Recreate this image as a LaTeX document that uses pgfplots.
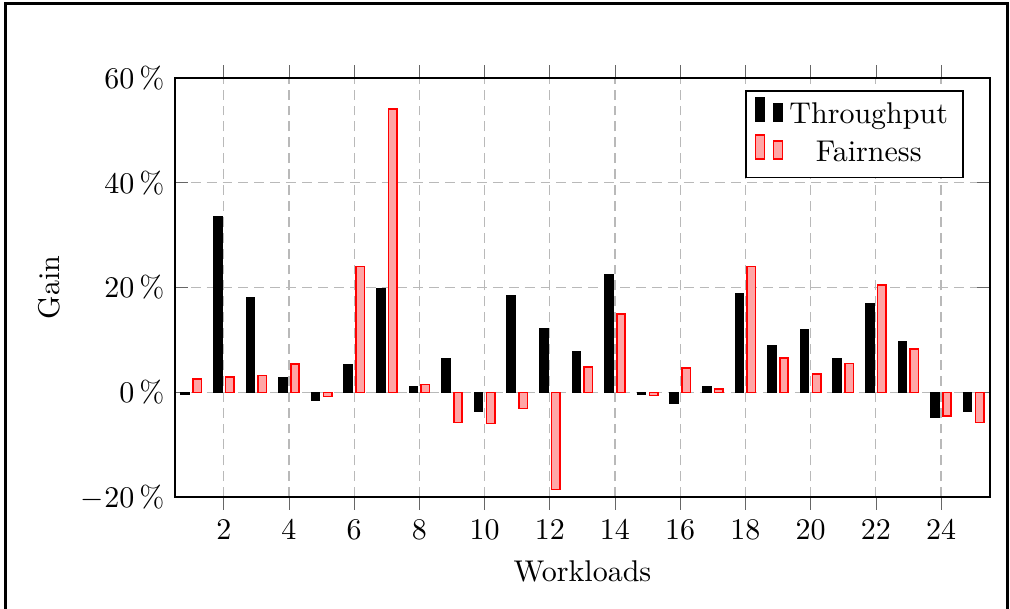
\documentclass[border=0pt]{standalone}
\usepackage{pgfplots}
\pgfplotsset{compat=1.18}

\pgfplotstableread{
x  thr    fair
1  -0.4   2.5
2  33.5   2.9
3  18.1   3.2
4  2.8    5.4
5  -1.5   -0.8
6  5.3    24.0
7  19.7   54.1
8  1.0    1.5
9  6.4    -5.8
10 -3.6   -6.0
11 18.4   -3.1
12 12.1   -18.6
13 7.8    4.8
14 22.4   14.9
15 -0.4   -0.6
16 -2.1   4.6
17 1.0    0.6
18 18.9   24.0
19 9.0    6.5
20 12.0   3.5
21 6.5    5.5
22 16.9   20.5
23 9.6    8.3
24 -4.7   -4.5
25 -3.6   -5.8
}\gaindata

\begin{document}
\begin{tikzpicture}
\begin{axis}[
  name=ax,
  scale only axis,
  width=271.7pt, height=139.7pt,
  ybar=1.2pt, bar width=2.8pt,
  xmin=0.5, xmax=25.5,
  ymin=-20, ymax=60,
  xtick={2,4,...,24},
  ytick={-20,0,20,40,60},
  yticklabel={\pgfmathprintnumber{\tick}\,\%},
  xlabel={Workloads},
  ylabel={Gain},
  grid=major,
  major grid style={gray!55, dash pattern=on 3.3pt off 2pt},
  axis line style={line width=0.8pt},
  xtick align=outside,
  x tick style={gray!80!black},
  y tick style={gray!80!black},
  legend style={at={(0.968,0.971)}, anchor=north east, draw=black,
    line width=0.6pt, font=\normalsize},
  legend cell align=center,
]
  \addplot[draw=black, fill=black, line width=0.4pt] table[x=x, y=thr] {\gaindata};
  \addplot[draw=red, fill=red!35, line width=0.5pt] table[x=x, y=fair] {\gaindata};
  \legend{Throughput, Fairness}
\end{axis}
\path[use as bounding box] ([shift={(-58.3pt,-37.3pt)}]ax.south west) rectangle ([shift={(6.7pt,26pt)}]ax.north east);
\draw[line width=1pt] ([shift={(-56.3pt,-37.3pt)}]ax.south west) -- ([shift={(-56.3pt,24.7pt)}]ax.north west)
  -- ([shift={(5.7pt,24.7pt)}]ax.north east) -- ([shift={(5.7pt,-37.3pt)}]ax.south east);
\end{tikzpicture}
\end{document}
